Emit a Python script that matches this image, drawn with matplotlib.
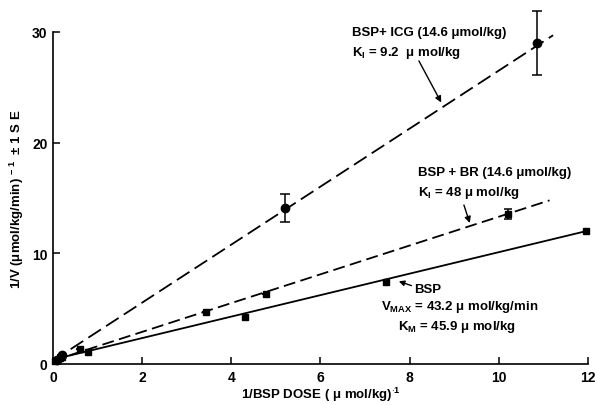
import matplotlib
matplotlib.use("Agg")
import matplotlib.pyplot as plt
import numpy as np

plt.rcParams['font.family'] = ['Liberation Sans', 'DejaVu Sans']
plt.rcParams['mathtext.fontset'] = 'custom'
plt.rcParams['mathtext.rm'] = 'Liberation Sans:bold'
plt.rcParams['mathtext.it'] = 'Liberation Sans:bold'
plt.rcParams['mathtext.bf'] = 'Liberation Sans:bold'

# BSP + ICG (circles, long dashes)
icg_x = [0.08, 0.2, 5.2, 10.85]
icg_y = [0.4, 0.8, 14.1, 29.0]
icg_err = [0.0, 0.0, 1.25, 2.9]
icg_fit = (0.3, 2.62, 11.22)   # intercept, slope, x end

# BSP + BR (squares, dashes)
br_x = [0.1, 0.2, 0.6, 3.44, 4.79, 10.2]
br_y = [0.4, 0.6, 1.35, 4.67, 6.32, 13.55]
br_err = [0.0, 0.0, 0.0, 0.0, 0.0, 0.45]
br_fit = (0.3, 1.30, 11.14)

# BSP alone (squares, solid)
bsp_x = [0.05, 0.15, 0.79, 4.3, 7.47, 11.96]
bsp_y = [0.3, 0.5, 1.05, 4.2, 7.43, 12.04]
bsp_fit = (0.4, 0.97, 12.0)

x_ticks = [0, 2, 4, 6, 8, 10, 12]
y_ticks = [0, 10, 20, 30]

fig = plt.figure(figsize=(5.95, 4.06), dpi=100)
ax = fig.add_axes([0.089, 0.101, 0.899, 0.818])

def fit_line(fit, **kw):
    b, m, xe = fit
    xs = np.array([0.0, xe])
    ax.plot(xs, b + m * xs, color='black', lw=1.3, clip_on=False, **kw)

fit_line(icg_fit, dashes=(8.3, 3.4))
fit_line(br_fit, dashes=(6.6, 3.0))
fit_line(bsp_fit)

ax.errorbar(icg_x, icg_y, yerr=icg_err, fmt='o', color='black', ms=6,
            capsize=3.5, elinewidth=1.1, capthick=1.1, clip_on=False)
ax.errorbar(br_x, br_y, yerr=br_err, fmt='s', color='black', ms=5,
            capsize=3, elinewidth=1.1, capthick=1.1, clip_on=False)
ax.plot(bsp_x, bsp_y, 's', color='black', ms=5, clip_on=False)

ax.set_xlim(0, 12)
ax.set_ylim(0, 30)
ax.set_xticks(x_ticks)
ax.set_yticks(y_ticks)
ax.spines['top'].set_visible(False)
ax.spines['right'].set_visible(False)
for s in ['left', 'bottom']:
    ax.spines[s].set_linewidth(1.2)
ax.tick_params(direction='in', length=5, width=1.1, labelsize=10, pad=4)
for lab in ax.get_xticklabels() + ax.get_yticklabels():
    lab.set_fontweight('bold')

ax.set_xlabel('1/BSP DOSE ( μ mol/kg)$^{\\cdot 1}$', fontsize=9.5,
              fontweight='bold', labelpad=1)
ax.set_ylabel('1/V (μmol/kg/min)$^{\\ -1}$  ± 1 S E', fontsize=9.5,
              fontweight='bold', labelpad=4)

fs = 9.5
ax.text(6.7, 30.0, 'BSP+ ICG (14.6 μmol/kg)', fontsize=fs, fontweight='bold', va='center')
ax.text(6.7, 28.2, 'K$_\\mathrm{I}$ = 9.2  μ mol/kg', fontsize=fs, fontweight='bold', va='center')
ax.annotate('', xy=(8.74, 23.4), xytext=(8.18, 27.6),
            arrowprops=dict(arrowstyle='-|>', color='black', lw=1.0, mutation_scale=9))

ax.text(8.2, 17.3, 'BSP + BR (14.6 μmol/kg)', fontsize=fs, fontweight='bold', va='center')
ax.text(8.2, 15.5, 'K$_\\mathrm{I}$ = 48 μ mol/kg', fontsize=fs, fontweight='bold', va='center')
ax.annotate('', xy=(9.37, 12.5), xytext=(9.2, 14.6),
            arrowprops=dict(arrowstyle='-|>', color='black', lw=1.0, mutation_scale=9))

ax.text(8.1, 6.8, 'BSP', fontsize=fs, fontweight='bold', va='center')
ax.annotate('', xy=(7.7, 7.55), xytext=(8.1, 7.0),
            arrowprops=dict(arrowstyle='-|>', color='black', lw=1.0, mutation_scale=8))
ax.text(7.35, 5.2, 'V$_\\mathrm{MAX}$ = 43.2 μ mol/kg/min', fontsize=fs, fontweight='bold', va='center')
ax.text(7.75, 3.4, 'K$_\\mathrm{M}$ = 45.9 μ mol/kg', fontsize=fs, fontweight='bold', va='center')

fig.savefig('out.png', dpi=100)
